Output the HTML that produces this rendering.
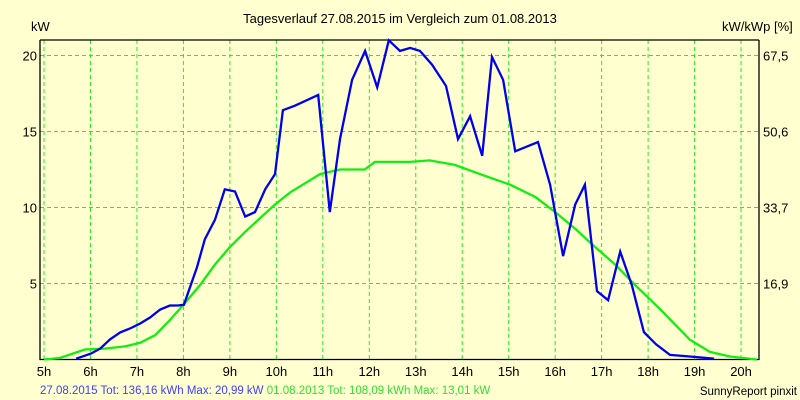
<!DOCTYPE html>
<html><head><meta charset="utf-8"><style>
body{margin:0;background:#ffffd0;}
svg{display:block;font-family:"Liberation Sans",sans-serif;}
</style></head><body>
<svg id="c" width="800" height="400">
<rect width="800" height="400" fill="#ffffd0"/>
<text x="400" y="23" text-anchor="middle" font-size="13" fill="#000">Tagesverlauf 27.08.2015 im Vergleich zum 01.08.2013</text>
<text x="31" y="31" font-size="13" fill="#000">kW</text>
<text x="722" y="31" font-size="13" fill="#000">kW/kWp [%]</text>
<g id="grid"></g><g id="axes"></g><g id="series"></g>
<text x="40" y="394" font-size="11.5"><tspan fill="#4040ff">27.08.2015 Tot: 136,16 kWh Max: 20,99 kW </tspan><tspan fill="#33dd33">01.08.2013 Tot: 108,09 kWh Max: 13,01 kW</tspan></text>
<text x="797" y="395" text-anchor="end" font-size="11.5" fill="#000">SunnyReport pinxit</text>
</svg>
<script>
const hourTicks=[5,6,7,8,9,10,11,12,13,14,15,16,17,18,19,20];
const kwTicks=[5,10,15,20];
const pctLabels=["16,9","33,7","50,6","67,5"];
const blueHours=[5.69,6.01,6.21,6.42,6.64,6.85,7.07,7.28,7.5,7.71,7.88,8.01,8.29,8.46,8.68,8.89,9.11,9.33,9.54,9.76,9.97,10.14,10.4,10.9,11.15,11.37,11.63,11.91,12.17,12.42,12.66,12.88,13.09,13.35,13.65,13.91,14.17,14.43,14.64,14.88,15.14,15.63,15.89,16.17,16.43,16.64,16.9,17.14,17.4,17.65,17.91,18.17,18.47,18.9,19.42];
const blueKw=[0.05,0.39,0.72,1.32,1.78,2.04,2.37,2.76,3.29,3.55,3.55,3.6,6.05,7.9,9.2,11.2,11.05,9.4,9.7,11.2,12.2,16.4,16.7,17.4,9.7,14.5,18.4,20.3,17.9,21.0,20.3,20.5,20.3,19.4,18.0,14.5,16.0,13.4,19.9,18.4,13.7,14.3,11.5,6.8,10.2,11.5,4.5,3.9,7.1,4.9,1.8,1.0,0.3,0.2,0.05];
const greenHours=[5,5.34,5.88,6.31,6.74,7.07,7.39,7.71,8.0,8.36,8.68,9.0,9.33,9.65,9.97,10.3,10.62,10.94,11.37,11.9,12.12,12.88,13.3,13.84,14.38,15.03,15.57,16.0,16.43,16.86,17.29,17.72,18.26,18.9,19.33,19.76,20.34];
const greenKw=[0,0.1,0.66,0.72,0.86,1.1,1.6,2.6,3.6,4.9,6.25,7.4,8.4,9.3,10.2,11.0,11.6,12.2,12.5,12.5,13.0,13.0,13.1,12.8,12.2,11.5,10.7,9.7,8.6,7.4,6.25,4.9,3.3,1.3,0.5,0.2,0];
const X=h=>44+(h-5)*46.47, Y=v=>359.5-v*15.2;
const NS="http://www.w3.org/2000/svg";
function mk(t,a,p){const e=document.createElementNS(NS,t);for(const k in a)e.setAttribute(k,a[k]);p.appendChild(e);return e;}
const grid=document.getElementById('grid'),axes=document.getElementById('axes'),ser=document.getElementById('series');
hourTicks.forEach(h=>{
 const l=mk('line',{x1:X(h),x2:X(h),y1:40,y2:359,stroke:'#22ee22','stroke-dasharray':'4,3'},grid);
 
 
 const t=mk('text',{x:X(h),y:376,'text-anchor':'middle','font-size':13},axes);t.textContent=h+'h';
 
 
});
kwTicks.forEach((v,i)=>{
 const l=mk('line',{x1:40,x2:759,y1:Y(v),y2:Y(v),stroke:'#22ee22','stroke-dasharray':'4,3'},grid);
 
 
 const t=mk('text',{x:37,y:Y(v)+5,'text-anchor':'end','font-size':13},axes);t.textContent=v;
 
 
 const r=mk('text',{x:763,y:Y(v)+5,'font-size':13},axes);r.textContent=pctLabels[i];
 
 
});
const ax=mk('path',{d:'M40,40V359.5H759V40M40,40H759',fill:'none',stroke:'#000','stroke-width':1.3},axes);


const pts=(hs,vs)=>hs.map((h,i)=>X(h).toFixed(1)+','+Y(vs[i]).toFixed(1)).join(' ');
const g=mk('polyline',{points:pts(greenHours,greenKw),fill:'none',stroke:'#11ee11','stroke-width':2.3},ser);


const b=mk('polyline',{points:pts(blueHours,blueKw),fill:'none',stroke:'#0000ee','stroke-width':2.3},ser);


</script>
</body></html>
